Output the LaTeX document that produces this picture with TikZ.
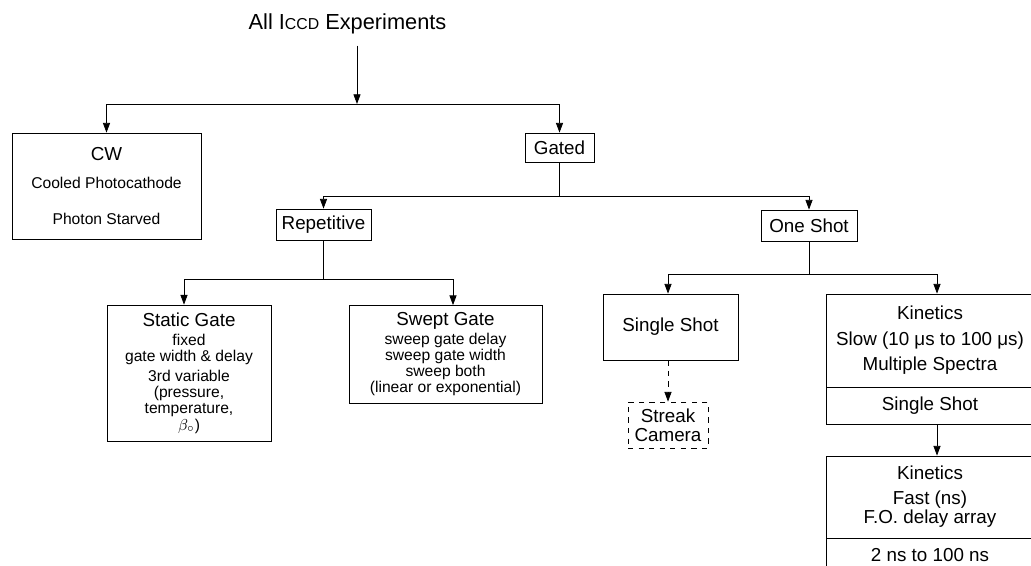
\documentclass[tikz,border=0pt]{standalone}
\usepackage{fontspec}
\setmainfont{Liberation Sans}
\usetikzlibrary{arrows.meta}

\newcommand{\headfont}{\fontsize{10.7}{10.8}\selectfont}
\newcommand{\smallfont}{\fontsize{8.9}{9.1}\selectfont}

\begin{document}
\begin{tikzpicture}[x=0.02cm, y=-0.02cm, >={Triangle[length=5.5pt,width=4pt]}, line width=0.45pt,
  box/.style={draw, align=center, inner sep=0pt, font=\smallfont},
  headbox/.style={box, font=\headfont}]
  \clip (0,0) rectangle (1031,565);
  % top level
  \node[font=\fontsize{12.4}{14}\selectfont] (all) at (347.5,24) {All I{\fontsize{9}{9}\selectfont CCD} Experiments};
  \node[box, minimum width=3.78cm, minimum height=2.12cm] (cw) at (106.5,186)
    {{\headfont CW}\\[6.8pt] Cooled Photocathode\\[11.3pt] Photon Starved};
  \node[headbox, minimum width=1.38cm, minimum height=0.58cm] (gated) at (559.5,147.5) {Gated};
  % gated branch
  \node[headbox, minimum width=1.9cm, minimum height=0.62cm] (repet) at (323.5,224.5) {Repetitive};
  \node[headbox, minimum width=1.92cm, minimum height=0.62cm] (oneshot) at (809,225.5) {One Shot};
  \node[box, minimum width=3.28cm, minimum height=2.72cm] (static) at (189,373)
    {{\headfont Static Gate}\\[1.7pt] fixed\\ gate width \& delay\\[2.2pt] 3rd variable\\ (pressure,\\ temperature,\\[0.5pt] $\beta_{\circ}$)};
  \node[box, minimum width=3.86cm, minimum height=1.96cm] (swept) at (445.5,354.5)
    {{\headfont Swept Gate}\\[1.7pt] sweep gate delay\\ sweep gate width\\ sweep both\\ (linear or exponential)};
  \node[headbox, minimum width=2.7cm, minimum height=1.32cm] (single) at (670.5,327) {Single Shot};
  \node[headbox, dashed, minimum width=1.6cm, minimum height=0.92cm] (streak) at (668,425) {Streak\\ Camera};
  \node[headbox, minimum width=4.16cm, minimum height=1.86cm] (kinslow) at (930,340.5)
    {Kinetics\\[3.9pt] Slow (10 μs to 100 μs)\\[3.4pt] Multiple Spectra};
  \node[headbox, minimum width=4.16cm, minimum height=0.74cm] (kinsingle) at (930,405.5) {Single Shot};
  \node[headbox, minimum width=4.16cm, minimum height=1.64cm] (kinfast) at (930,497)
    {Kinetics\\[3.4pt] Fast (ns)\\ F.O. delay array};
  \node[headbox, minimum width=4.16cm, minimum height=0.68cm] (kinrange) at (930,555) {2 ns to 100 ns};
  % connectors
  \coordinate (jall) at (357,104);
  \coordinate (jgated) at (559.5,196);
  \coordinate (jrep) at (323.5,279);
  \coordinate (jone) at (809,274);
  \draw[->, shorten <=3pt] (all.south -| jall) -- (jall);
  \draw[->] (jall) -| (cw);
  \draw[->] (jall) -| (gated);
  \draw (gated) -- (jgated);
  \draw[->] (jgated) -| (repet);
  \draw[->] (jgated) -| (oneshot);
  \draw (repet) -- (jrep);
  \draw[->] (jrep) -| ([xshift=-0.1cm]static.north);
  \draw[->] (jrep) -| ([xshift=0.15cm]swept.north);
  \draw (oneshot) -- (jone);
  \draw[->] (jone) -| ([xshift=-0.05cm]single.north);
  \draw[->] (jone) -| ([xshift=0.14cm]kinslow.north);
  \draw[->, dashed] (single.south -| streak) -- (streak);
  \draw[->] ([xshift=0.14cm]kinsingle.south) -- ([xshift=0.14cm]kinfast.north);
\end{tikzpicture}
\end{document}
